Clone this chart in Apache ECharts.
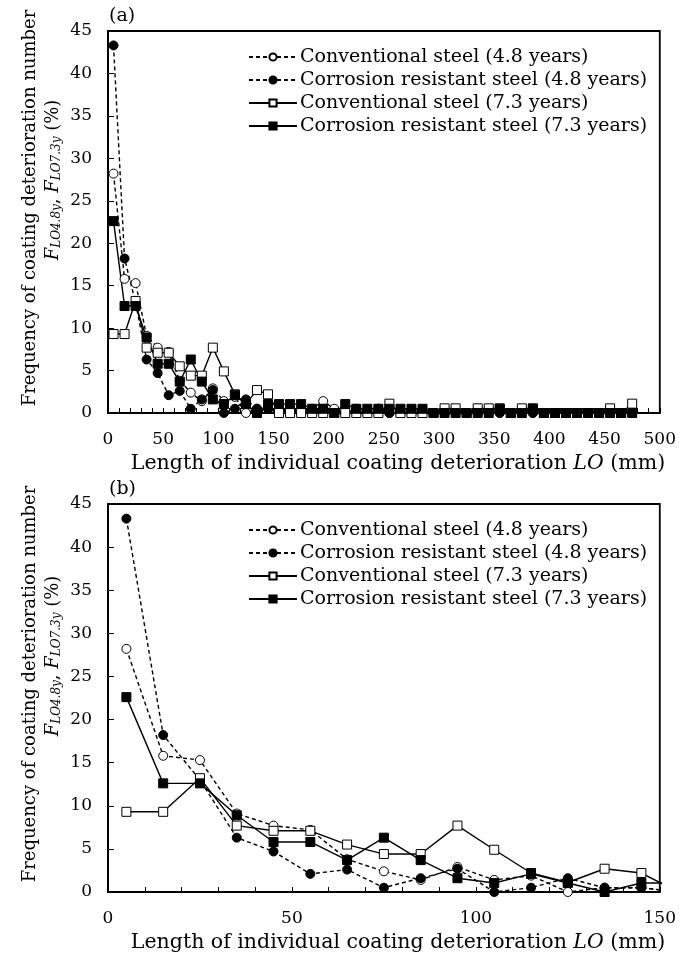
<!DOCTYPE html>
<html>
<head>
<meta charset="utf-8">
<script src="https://cdn.jsdelivr.net/npm/echarts@6/dist/echarts.min.js"></script>
<style>
  html, body { margin: 0; padding: 0; background: #fff; }
  #chart { width: 679px; height: 956px; }
</style>
</head>
<body>
<div id="chart"></div>
<script>
// Bin centres of the length classes (mm)
const lengthBins = [5, 15, 25, 35, 45, 55, 65, 75, 85, 95, 105, 115, 125, 135, 145,
  155, 165, 175, 185, 195, 205, 215, 225, 235, 245, 255, 265, 275, 285, 295,
  305, 315, 325, 335, 345, 355, 365, 375, 385, 395, 405, 415, 425, 435, 445,
  455, 465, 475];

// Frequency (%) per bin
const conventional48 = [28.2, 15.8, 15.3, 9.1, 7.7, 7.2, 3.8, 2.4, 1.4, 2.9, 1.4, 1.9, 0, 0.5, 0.5,
  0, 0, 0, 0.5, 1.4, 0.5, 0, 0, 0, 0.5, 0, 0, 0, 0, 0,
  0, 0, 0, 0, 0, 0, 0, 0, 0, 0, 0, 0, 0, 0, 0,
  0, 0, 0];
const corrosion48 = [43.3, 18.2, 13.0, 6.3, 4.7, 2.1, 2.6, 0.5, 1.6, 2.7, 0, 0.5, 1.6, 0.5, 0.5,
  0, 0, 0, 0, 0.5, 0, 0, 0.5, 0, 0.5, 0, 0, 0, 0, 0,
  0, 0, 0, 0, 0, 0, 0, 0, 0, 0, 0, 0, 0, 0, 0,
  0, 0, 0];
const conventional73 = [9.3, 9.3, 13.2, 7.7, 7.1, 7.1, 5.5, 4.4, 4.4, 7.7, 4.9, 2.2, 1.1, 2.7, 2.2,
  0, 0, 0, 0, 0, 0, 0, 0, 0, 0, 1.1, 0, 0, 0, 0,
  0.55, 0.55, 0, 0.55, 0.55, 0.55, 0, 0.55, 0.55, 0, 0, 0, 0, 0, 0,
  0.55, 0, 1.1];
const corrosion73 = [22.6, 12.6, 12.6, 8.9, 5.8, 5.8, 3.7, 6.3, 3.7, 1.6, 1.05, 2.1, 1.05, 0, 1.05,
  1.05, 1.05, 1.05, 0.5, 0.5, 0, 1.05, 0.5, 0.5, 0.5, 0.5, 0.5, 0.5, 0.5, 0,
  0, 0, 0, 0, 0, 0.5, 0, 0, 0.5, 0, 0, 0, 0, 0, 0,
  0, 0, 0];

const seriesNames = [
  'Conventional steel (4.8 years)',
  'Corrosion resistant steel (4.8 years)',
  'Conventional steel (7.3 years)',
  'Corrosion resistant steel (7.3 years)'
];
const yTicks = [0, 5, 10, 15, 20, 25, 30, 35, 40, 45];

const FONT = '"DejaVu Serif", serif';
const pairs = arr => lengthBins.map((x, i) => [x, arr[i]]);

const seriesDefs = [
  { name: seriesNames[0], data: conventional48, symbol: 'circle', filled: false, dashed: true },
  { name: seriesNames[1], data: corrosion48, symbol: 'circle', filled: true, dashed: true },
  { name: seriesNames[2], data: conventional73, symbol: 'rect', filled: false, dashed: false },
  { name: seriesNames[3], data: corrosion73, symbol: 'rect', filled: true, dashed: false }
];

// Plot frames: panel (a) and panel (b)
const grids = [
  { left: 108, right: 16, top: 31, height: 382 },
  { left: 108, right: 16, top: 504, height: 388 }
];

function makeX(gridIndex, max) {
  return {
    type: 'value', gridIndex, min: 0, max, interval: 50,
    axisLine: { show: true, lineStyle: { color: '#000', width: 1.8 } },
    axisTick: { show: true, inside: true, length: 5, lineStyle: { color: '#000', width: 1 } },
    minorTick: { show: true, splitNumber: 5, length: 5, lineStyle: { color: '#000', width: 1 } },
    axisLabel: { color: '#000', fontFamily: FONT, fontSize: 17, margin: 18 },
    splitLine: { show: false }
  };
}
function makeY(gridIndex) {
  return {
    type: 'value', gridIndex, min: yTicks[0], max: yTicks[yTicks.length - 1], interval: 5,
    axisLine: { show: true, lineStyle: { color: '#000', width: 1.8 } },
    axisTick: { show: true, inside: true, length: 6, lineStyle: { color: '#000', width: 1 } },
    axisLabel: { color: '#000', fontFamily: FONT, fontSize: 17, margin: 16 },
    splitLine: { show: false }
  };
}

const series = [];
[0, 1].forEach(g => {
  seriesDefs.forEach(d => {
    series.push({
      type: 'line',
      name: d.name,
      xAxisIndex: g, yAxisIndex: g,
      data: pairs(d.data),
      symbol: d.symbol,
      symbolSize: 9,
      showAllSymbol: true,
      clip: true,
      lineStyle: { color: '#000', width: 1.4, type: d.dashed ? [4, 3] : 'solid' },
      itemStyle: { color: d.filled ? '#000' : '#fff', borderColor: '#000', borderWidth: 1 },
      emphasis: { disabled: true },
      animation: false
    });
  });
});

function legendAt(top) {
  return {
    orient: 'vertical', left: 243, top,
    data: seriesNames,
    itemWidth: 48, itemHeight: 9, itemGap: 3,
    selectedMode: false,
    textStyle: { color: '#000', fontFamily: FONT, fontSize: 19, lineHeight: 20, padding: [0, 0, 0, -2] }
  };
}

const yTitleRich = {
  i: { fontFamily: FONT, fontSize: 18, fontStyle: 'italic', color: '#000' },
  s: { fontFamily: FONT, fontSize: 12, fontStyle: 'italic', color: '#000', verticalAlign: 'bottom', padding: [8, 0, 0, 0] },
  n: { fontFamily: FONT, fontSize: 18, color: '#000' }
};
const xTitleRich = {
  n: { fontFamily: FONT, fontSize: 20.5, color: '#000' },
  i: { fontFamily: FONT, fontSize: 20.5, fontStyle: 'italic', color: '#000' }
};

function panelTexts(tag, top, bottom) {
  const mid = (top + bottom) / 2;
  return [
    { type: 'text', x: 109, y: top - 15, style: { text: tag, font: '19px ' + FONT, fill: '#000', align: 'left', verticalAlign: 'middle' } },
    { type: 'text', x: 30, y: mid - 14, rotation: Math.PI / 2,
      style: { text: 'Frequency of coating deterioration number', font: '18px ' + FONT, fill: '#000', align: 'center', verticalAlign: 'middle' } },
    { type: 'text', x: 53, y: mid - 42, rotation: Math.PI / 2,
      style: { text: '{i|F}{s|LO4.8y}{n|, }{i|F}{s|LO7.3y}{n| (%)}', rich: yTitleRich, align: 'center', verticalAlign: 'middle' } },
    { type: 'text', x: 398, y: bottom + 51,
      style: { text: '{n|Length of individual coating deterioration }{i|LO}{n| (mm)}', rich: xTitleRich, align: 'center', verticalAlign: 'middle' } }
  ];
}

const chart = echarts.init(document.getElementById('chart'), null, { renderer: 'canvas' });
chart.setOption({
  backgroundColor: '#fff',
  animation: false,
  grid: grids.map(g => Object.assign({ show: true, borderColor: '#000', borderWidth: 1.8, backgroundColor: 'transparent' }, g)),
  xAxis: [makeX(0, 500), makeX(1, 150)],
  yAxis: [makeY(0), makeY(1)],
  legend: [legendAt(42), legendAt(515)],
  series,
  graphic: [...panelTexts('(a)', 31, 413), ...panelTexts('(b)', 504, 892)]
});
</script>
</body>
</html>
